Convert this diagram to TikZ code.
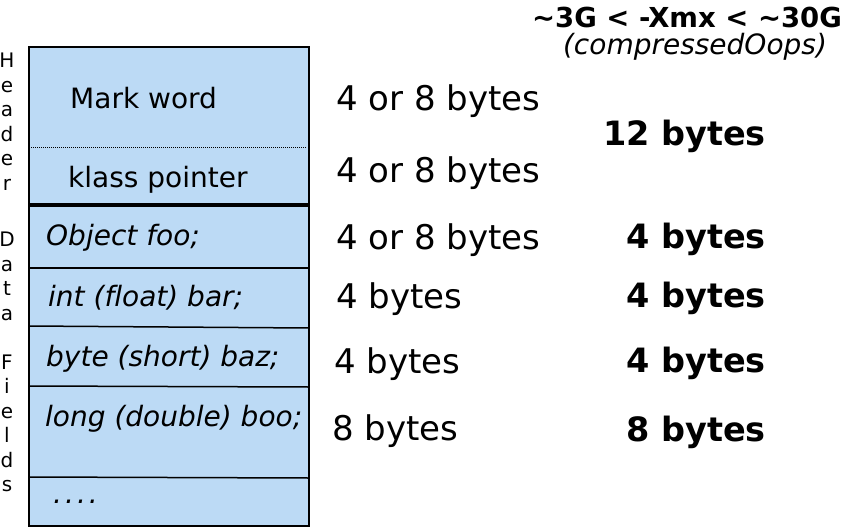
\documentclass[tikz,border=0pt]{standalone}
\usepackage{fontspec}
\setmainfont[Ligatures=NoCommon]{DejaVu Sans}
\usetikzlibrary{positioning}
\definecolor{slotblue}{RGB}{188,218,245}
\tikzstyle{side} = [inner sep=0pt, align=center, font=\fontsize{20}{24.5}\selectfont]
\tikzstyle{slot} = [anchor=base west, inner sep=0pt, font=\fontsize{28}{34}\selectfont]
\tikzstyle{field} = [slot, font=\fontsize{28}{34}\selectfont\itshape]
\tikzstyle{size} = [anchor=base west, inner sep=0pt, font=\fontsize{34}{40}\selectfont]
\tikzstyle{packed} = [anchor=base east, inner sep=0pt, font=\fontsize{33.5}{40}\selectfont\bfseries]

\begin{document}
\begin{tikzpicture}[x=1pt,y=-1pt]
	\useasboundingbox (0,0) rectangle (848,527);
	% the object box and its slots
	\coordinate (tl) at (29,47);
	\coordinate (br) at (309,526);
	\fill [slotblue] (tl) rectangle (br);
	\draw [densely dotted, line width=1pt] (31,147) -- (307,147);
	\draw [line width=4.5pt] (29,205) -- (309,205);
	\draw [line width=1.5pt] (29,268) -- (309,268);
	\draw [line width=1.5pt] (29,326) -- (309,328);
	\draw [line width=1.5pt] (29,386) -- (309,387);
	\draw [line width=1.5pt] (29,477) -- (309,478);
	\draw [line width=2pt] (tl) rectangle (br);

	% side labels
	\node [side,anchor=north] (hdr) at (7,53) {H\\e\\a\\d\\e\\r};
	\node [side,anchor=north] (dat) at (7,232) {D\\a\\t\\a\\[24.5pt]F\\i\\e\\l\\d\\s};

	% slot texts
	\node [slot] (mark) at (70,108) {Mark word};
	\node [slot] (klass) at (68,187) {klass pointer};
	\node [field] (foo) at (46,245) {Object foo;};
	\node [field] (bar) at (48,306) {int (float) bar;};
	\node [field] (baz) at (46,366) {byte (short) baz;};
	\node [field] (boo) at (45,426) {long (double) boo;};
	\node [field] (more) at (53,503) {.\kern3pt.\kern3pt.\kern3pt.};

	% plain sizes
	\node [size] (s1) at (336,110) {4 or 8 bytes};
	\node [size] (s2) at (336,182) {4 or 8 bytes};
	\node [size] (s3) at (336,249) {4 or 8 bytes};
	\node [size] (s4) at (336,308) {4 bytes};
	\node [size] (s5) at (334,373) {4 bytes};
	\node [size] (s6) at (332,440) {8 bytes};

	% compressed sizes
	\node [inner sep=0pt,anchor=base,font=\fontsize{27.5}{30}\selectfont\bfseries] (title) at (687,28) {\textasciitilde 3G < -Xmx < \textasciitilde 30G};
	\node [inner sep=0pt,anchor=base,font=\fontsize{28}{30}\selectfont\itshape] (coops) at (695,55) {(compressedOops)};
	\node [packed] (c1) at (766,145) {12 bytes};
	\node [packed] (c3) at (766,248) {4 bytes};
	\node [packed] (c4) at (766,307) {4 bytes};
	\node [packed] (c5) at (766,372) {4 bytes};
	\node [packed] (c6) at (766,441) {8 bytes};
\end{tikzpicture}
\end{document}
